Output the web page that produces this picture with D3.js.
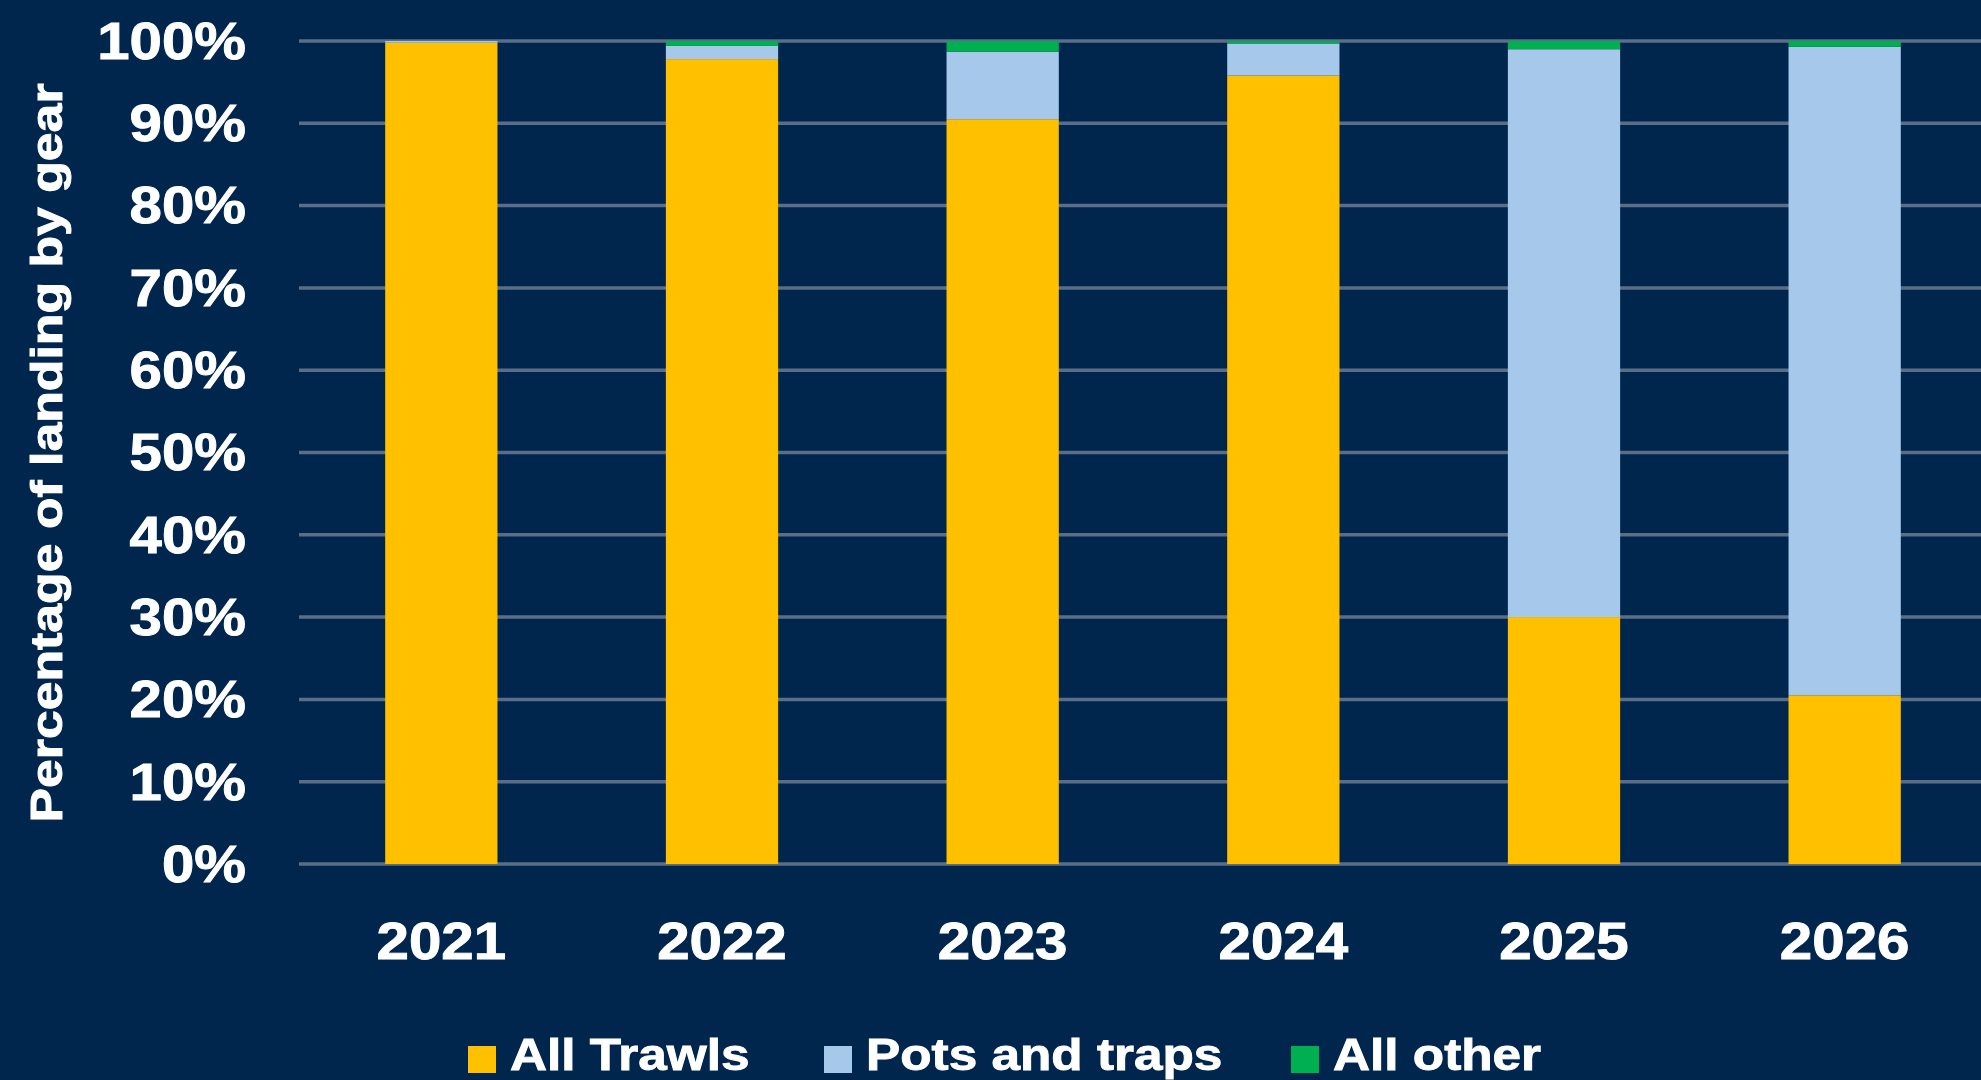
<!DOCTYPE html>
<html>
<head>
<meta charset="utf-8">
<script src="https://cdn.jsdelivr.net/npm/d3@7"></script>
<style>
html,body{margin:0;padding:0;background:#00264d;}
svg{display:block;}
text{font-family:"Liberation Sans",Arial,Helvetica,sans-serif;font-weight:bold;fill:#ffffff;stroke:#ffffff;stroke-width:0.9px;}
</style>
</head>
<body>
<svg id="chart" width="1981" height="1080"></svg>
<script>
// ---- data ----
const years = ["2021","2022","2023","2024","2025","2026"];
const seriesNames = ["All Trawls","Pots and traps","All other"];
const allTrawls   = [99.8, 97.8, 90.5, 95.8, 30.0, 20.5];
const potsTraps   = [0.2,  1.6,  8.2,  3.9,  69.0, 78.8];
const allOther    = [0.0,  0.6,  1.3,  0.3,  1.0,  0.7];
const yTicks = [0,10,20,30,40,50,60,70,80,90,100];
const yTitle = "Percentage of landing by gear";
const colors = ["#FFC000","#A6C8EA","#00B050"];

// ---- layout ----
const W = 1981, H = 1080;
const svg = d3.select("#chart");
svg.append("rect").attr("width",W).attr("height",H).attr("fill","#00264d");

const stretch = 1.14;
function widen(sel, f){
  sel.each(function(){
    const len = this.getComputedTextLength();
    d3.select(this).attr("textLength", len*(f||stretch)).attr("lengthAdjust","spacingAndGlyphs");
  });
}

const x = d3.scaleBand().domain(years).range([301,1985]).paddingInner(0.6).paddingOuter(0.3);
const y = d3.scaleLinear().domain([0,100]).range([864,41]);

// gridlines
svg.append("g").selectAll("line").data(yTicks).join("line")
  .attr("x1",299).attr("x2",W)
  .attr("y1",d=>y(d)).attr("y2",d=>y(d))
  .attr("stroke","#5a6e88").attr("stroke-width",3.5);

// stacked bars
const table = years.map((yr,i)=>({year:yr,"All Trawls":allTrawls[i],"Pots and traps":potsTraps[i],"All other":allOther[i]}));
const stack = d3.stack().keys(seriesNames)(table);
svg.append("g").selectAll("g").data(stack).join("g")
  .attr("fill",(d,i)=>colors[i])
  .selectAll("rect").data(d=>d).join("rect")
  .attr("x",d=>x(d.data.year))
  .attr("width",x.bandwidth())
  .attr("y",d=>y(d[1]))
  .attr("height",d=>Math.max(0,y(d[0])-y(d[1])));

// y tick labels
const yl = svg.append("g").selectAll("text").data(yTicks).join("text")
  .attr("x",246).attr("y",d=>y(d)).attr("dy","0.35em")
  .attr("text-anchor","end").attr("font-size",51)
  .text(d=>d+"%");
widen(yl);

// x labels
const xl = svg.append("g").selectAll("text").data(years).join("text")
  .attr("x",d=>x(d)+x.bandwidth()/2).attr("y",959)
  .attr("text-anchor","middle").attr("font-size",52)
  .text(d=>d);
widen(xl,1.12);

// y title
const yt = svg.append("text")
  .attr("transform","translate(62,453) rotate(-90)")
  .attr("text-anchor","middle").attr("font-size",45)
  .text(yTitle);
widen(yt,1.15);

// legend
const legendX = [468, 824, 1291];
const lg = svg.append("g").selectAll("g").data(seriesNames).join("g")
  .attr("transform",(d,i)=>`translate(${legendX[i]},0)`);
lg.append("rect").attr("x",0).attr("y",1046).attr("width",28).attr("height",27)
  .attr("fill",(d,i)=>colors[i]);
const lt = lg.append("text").attr("x",42).attr("y",1070).attr("font-size",45).text(d=>d);
widen(lt);
</script>
</body>
</html>
